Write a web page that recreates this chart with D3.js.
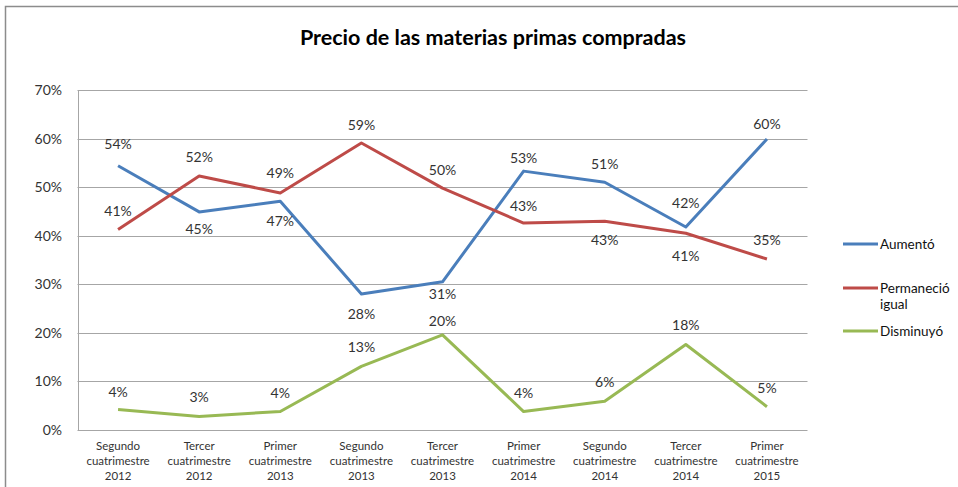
<!DOCTYPE html>
<html><head><meta charset="utf-8">
<script src="https://cdn.jsdelivr.net/npm/d3@7/dist/d3.min.js"></script>
<style>body{margin:0;background:#fff}svg{display:block;font-family:Lato,"Open Sans",sans-serif}</style>
</head><body>
<script>
const title = "Precio de las materias primas compradas";
const categories = [
  ["Segundo","cuatrimestre","2012"],["Tercer","cuatrimestre","2012"],["Primer","cuatrimestre","2013"],
  ["Segundo","cuatrimestre","2013"],["Tercer","cuatrimestre","2013"],["Primer","cuatrimestre","2014"],
  ["Segundo","cuatrimestre","2014"],["Tercer","cuatrimestre","2014"],["Primer","cuatrimestre","2015"]];
const seriesNames = ["Aumentó","Permaneció igual","Disminuyó"];
const aumento     = [54.4, 44.9, 47.1, 28.0, 30.5, 53.3, 51.0, 41.8, 59.9];
const permanecio  = [41.3, 52.3, 48.8, 59.1, 49.8, 42.6, 43.0, 40.5, 35.2];
const disminuyo   = [4.2, 2.8, 3.8, 13.1, 19.6, 3.8, 5.9, 17.6, 4.8];
const aumentoLabels    = ["54%","45%","47%","28%","31%","53%","51%","42%","60%"];
const permanecioLabels = ["41%","52%","49%","59%","50%","43%","43%","41%","35%"];
const disminuyoLabels  = ["4%","3%","4%","13%","20%","4%","6%","18%","5%"];
// label placement: vertical shift of label centre from its point (px; negative = above)
const aumentoShift    = [-22, 17, 20, 20, 12, -13, -18, -24, -15];
const permanecioShift = [-18, -19, -20, -18, -18, -17, 19, 23, -19];
const disminuyoShift  = [-18, -19, -19, -19, -14, -19, -19, -20, -19];
const yTicks = [0,10,20,30,40,50,60,70];

const W = 958, H = 487;
const colors = ["#4a7ebb","#be4b48","#98b954"];
const svg = d3.select("body").append("svg").attr("width",W).attr("height",H);

// outer frame
svg.append("rect").attr("x",5.5).attr("y",6.5).attr("width",W+10).attr("height",H+10)
  .attr("fill","none").attr("stroke","#8c8c8c").attr("stroke-width",1.5);

svg.append("text").attr("x",493).attr("y",45).attr("text-anchor","middle")
  .attr("font-size",21.5).attr("font-weight","bold").attr("fill","#000").text(title);

const x = d3.scaleBand().domain(d3.range(categories.length)).range([77.5,807.5]);
const y = d3.scaleLinear().domain([0,70]).range([430,90]);

// gridlines
svg.append("g").selectAll("line").data(yTicks).join("line")
  .attr("x1",77.5).attr("x2",807.5).attr("y1",d=>Math.round(y(d))+0.5).attr("y2",d=>Math.round(y(d))+0.5)
  .attr("stroke","#a6a6a6").attr("stroke-width",1);

// y axis
const yAxis = svg.append("g").attr("transform","translate(78,0)")
  .call(d3.axisLeft(y).tickValues(yTicks).tickFormat(d=>d+"%").tickSize(0).tickPadding(16));
yAxis.select(".domain").attr("stroke","#a6a6a6");
yAxis.selectAll("text").attr("font-size",14).attr("fill","#333").attr("font-family","Lato,sans-serif");

// x axis labels
const xAxis = svg.append("g").attr("transform","translate(0,430)")
  .call(d3.axisBottom(x).tickSize(0).tickFormat(""));
xAxis.select(".domain").remove();
xAxis.selectAll(".tick").each(function(d){
  const t = d3.select(this).append("text").attr("fill","#333").attr("font-size",11.5)
    .attr("font-weight","normal").attr("text-anchor","middle").attr("font-family","Lato,sans-serif");
  categories[d].forEach((s,i)=>t.append("tspan").attr("x",0).attr("y",20+i*15).text(s));
});

const series = [
  {vals:aumento, labels:aumentoLabels, shift:aumentoShift},
  {vals:permanecio, labels:permanecioLabels, shift:permanecioShift},
  {vals:disminuyo, labels:disminuyoLabels, shift:disminuyoShift}];
const cx = i => x(i)+x.bandwidth()/2;
const line = d3.line().x((d,i)=>cx(i)).y(d=>y(d));
series.forEach((s,k)=>{
  svg.append("path").datum(s.vals).attr("d",line).attr("fill","none")
    .attr("stroke",colors[k]).attr("stroke-width",3).attr("stroke-linejoin","round");
});
series.forEach((s,k)=>{
  svg.append("g").selectAll("text").data(s.vals).join("text")
    .attr("x",(d,i)=>cx(i)).attr("y",(d,i)=>y(d) + s.shift[i] + 5)
    .attr("text-anchor","middle").attr("font-size",14).attr("fill","#333")
    .text((d,i)=>s.labels[i]);
});

// legend
const legY = [244, 288, 331];
seriesNames.forEach((n,k)=>{
  const g = svg.append("g");
  g.append("line").attr("x1",843).attr("x2",878).attr("y1",legY[k]).attr("y2",legY[k])
    .attr("stroke",colors[k]).attr("stroke-width",3);
  const words = k===1 ? ["Permaneció","igual"] : [n];
  words.forEach((w,j)=>{
    g.append("text").attr("x",880).attr("y",legY[k]+5+j*16)
      .attr("font-size",13.5).attr("fill","#111").text(w);
  });
});
</script>
</body></html>
